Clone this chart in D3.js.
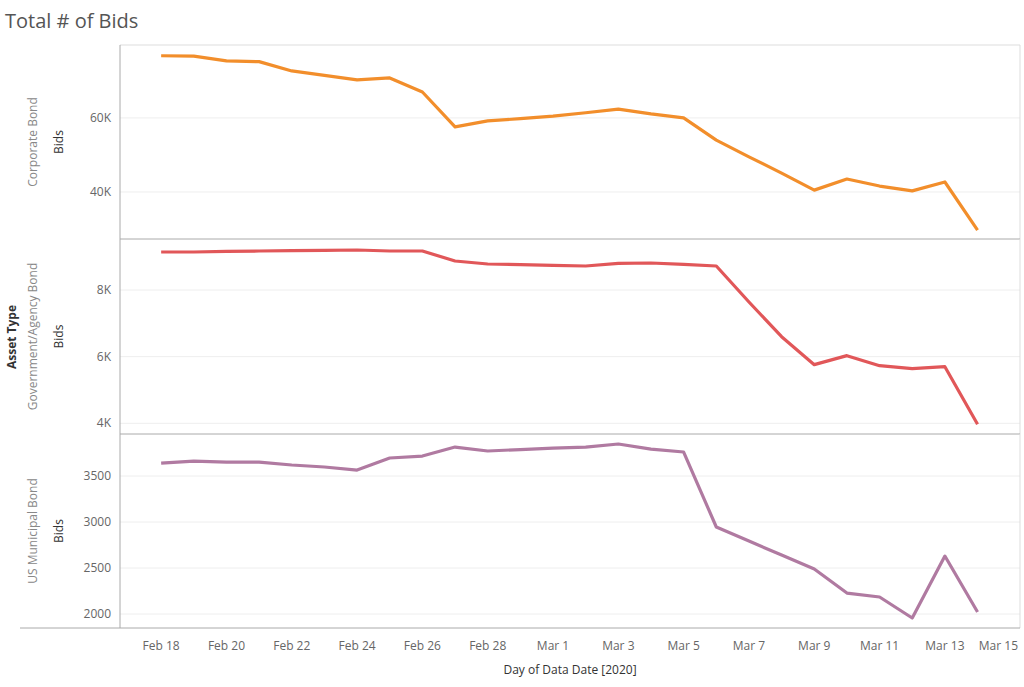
<!DOCTYPE html><html><head><meta charset="utf-8"><script src="https://cdn.jsdelivr.net/npm/d3@7"></script>
<style>body{margin:0;background:#fff;font-family:"Open Sans",sans-serif}</style></head><body><svg id="c" width="1024" height="687"></svg>
<script>
const dates=["Feb 18","Feb 19","Feb 20","Feb 21","Feb 22","Feb 23","Feb 24","Feb 25","Feb 26","Feb 27","Feb 28","Feb 29","Mar 1","Mar 2","Mar 3","Mar 4","Mar 5","Mar 6","Mar 7","Mar 8","Mar 9","Mar 10","Mar 11","Mar 12","Mar 13","Mar 14"];
const corporate=[76800,76700,75400,75200,72700,71500,70300,70800,67000,57600,59200,59800,60500,61400,62400,61100,60000,54000,49500,45100,40500,43500,41600,40300,42700,29700];
const government=[9140,9140,9160,9170,9180,9190,9200,9170,9170,8870,8780,8760,8740,8720,8800,8810,8770,8720,7640,6600,5760,6030,5730,5640,5700,3970];
const municipal=[3641,3663,3652,3652,3620,3598,3565,3696,3717,3815,3772,3788,3804,3815,3848,3793,3761,2946,2793,2641,2489,2228,2185,1957,2630,2022];
const panelNames=["Corporate Bond","Government/Agency Bond","US Municipal Bond"];
const tickLabels=["Feb 18","Feb 20","Feb 22","Feb 24","Feb 26","Feb 28","Mar 1","Mar 3","Mar 5","Mar 7","Mar 9","Mar 11","Mar 13","Mar 15"];
const tickIdx=[0,2,4,6,8,10,12,14,16,18,20,22,24,26];
const svg=d3.select("#c");
const L=120,R=1020;
const x=d3.scaleLinear().domain([-1.26,26.3]).range([L,R]);
const panels=[
 {data:corporate,top:45,bot:239,dom:[27300,79700],ticks:[40000,60000],fmt:d=>d/1000+"K",color:"#f28e2b"},
 {data:government,top:239,bot:434,dom:[3680,9530],ticks:[4000,6000,8000],fmt:d=>d/1000+"K",color:"#e15759"},
 {data:municipal,top:434,bot:628,dom:[1848,3957],ticks:[2000,2500,3000,3500],fmt:d=>d,color:"#b07aa1"}];
svg.append("text").attr("x",5).attr("y",28).attr("font-size",20).attr("fill","#555").text("Total # of Bids");
panels.forEach((p,i)=>{
 const y=d3.scaleLinear().domain(p.dom).range([p.bot,p.top]);
 const g=svg.append("g");
 g.selectAll(".gr").data(p.ticks).join("line").attr("x1",L).attr("x2",R).attr("y1",d=>y(d)).attr("y2",d=>y(d)).attr("stroke","#eee");
 g.selectAll(".tl").data(p.ticks).join("text").attr("x",L-9).attr("y",d=>y(d)+4).attr("text-anchor","end").attr("font-size",12).attr("fill","#666").text(p.fmt);
 g.append("line").attr("x1",L).attr("x2",R).attr("y1",p.top).attr("y2",p.top).attr("stroke",i==0?"#ddd":"#aaa");
 g.append("line").attr("x1",R).attr("x2",R).attr("y1",p.top).attr("y2",p.bot).attr("stroke","#ddd");
 const mid=(p.top+p.bot)/2;
 g.append("text").attr("transform",`translate(63,${mid}) rotate(-90)`).attr("text-anchor","middle").attr("font-size",12).attr("fill","#333").text("Bids");
 g.append("text").attr("transform",`translate(37,${mid}) rotate(-90)`).attr("text-anchor","middle").attr("font-size",12).attr("fill","#888").text(panelNames[i]);
 g.append("path").datum(p.data).attr("fill","none").attr("stroke",p.color).attr("stroke-width",3.2).attr("stroke-linejoin","round")
  .attr("d",d3.line().x((d,j)=>x(j)).y(d=>y(d)));
});
svg.append("line").attr("x1",L).attr("x2",L).attr("y1",45).attr("y2",628).attr("stroke","#aaa");
svg.append("line").attr("x1",20).attr("x2",R).attr("y1",628).attr("y2",628).attr("stroke","#aaa");
svg.append("text").attr("transform","translate(16,337) rotate(-90)").attr("text-anchor","middle").attr("font-size",12).attr("font-weight","bold").attr("fill","#333").text("Asset Type");
svg.selectAll(".xt").data(tickIdx).join("text").attr("x",d=>d===26?R-2:x(d)).attr("y",650).attr("text-anchor",d=>d===26?"end":"middle").attr("font-size",12).attr("fill","#666").text((d,i)=>tickLabels[i]);
svg.append("text").attr("x",570).attr("y",674).attr("text-anchor","middle").attr("font-size",12).attr("fill","#333").text("Day of Data Date [2020]");
</script></body></html>
